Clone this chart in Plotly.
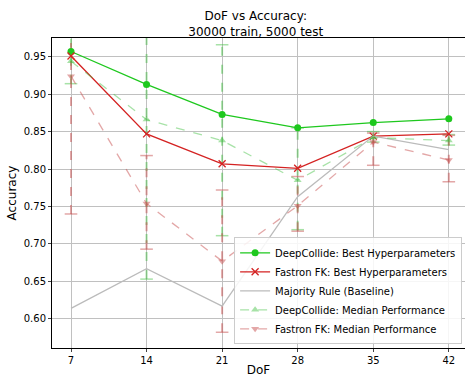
import plotly.graph_objects as go

dof = [7, 14, 21, 28, 35, 42]
dc_best = [0.957, 0.913, 0.873, 0.855, 0.862, 0.867]
fk_best = [0.951, 0.847, 0.807, 0.801, 0.844, 0.847]
majority = [0.614, 0.667, 0.617, 0.763, 0.844, 0.826]
dc_med = [0.944, 0.866, 0.838, 0.785, 0.842, 0.838]
dc_lo = [0.914, 0.653, 0.711, 0.719, 0.836, 0.832]
dc_hi = [0.99, 0.99, 0.966, 0.855, 0.850, 0.846]
fk_med = [0.924, 0.754, 0.677, 0.751, 0.836, 0.812]
fk_lo = [0.740, 0.693, 0.582, 0.717, 0.805, 0.783]
fk_hi = [0.99, 0.818, 0.772, 0.790, 0.848, 0.845]

GREEN = "#1ec81e"
RED = "#d42222"
LGREEN = "rgba(60,190,60,0.45)"
LRED = "rgba(200,80,80,0.5)"
FONT = "DejaVu Sans"

fig = go.Figure()

def err_traces(x, lo, hi, color):
    xs, ys = [], []
    for xi, l, h in zip(x, lo, hi):
        xs += [xi, xi, None]
        ys += [l, h, None]
    fig.add_trace(go.Scatter(x=xs, y=ys, mode="lines", line=dict(color=color, width=2, dash="dash"),
                             showlegend=False, hoverinfo="skip"))
    fig.add_trace(go.Scatter(x=list(x) + list(x), y=list(lo) + list(hi), mode="markers",
                             marker=dict(symbol="line-ew", size=9, line=dict(color=color, width=1.5)),
                             showlegend=False, hoverinfo="skip"))

err_traces(dof, dc_lo, dc_hi, LGREEN)
err_traces(dof, fk_lo, fk_hi, LRED)

fig.add_trace(go.Scatter(x=dof, y=dc_best, mode="lines+markers", name="DeepCollide: Best Hyperparameters",
                         line=dict(color=GREEN, width=1.3), marker=dict(symbol="circle", size=7, color=GREEN)))
fig.add_trace(go.Scatter(x=dof, y=fk_best, mode="lines+markers", name="Fastron FK: Best Hyperparameters",
                         line=dict(color=RED, width=1.3), marker=dict(symbol="x-thin", size=7, line=dict(color=RED, width=1.3))))
fig.add_trace(go.Scatter(x=dof, y=majority, mode="lines", name="Majority Rule (Baseline)",
                         line=dict(color="#bbbbbb", width=1.3)))
fig.add_trace(go.Scatter(x=dof, y=dc_med, mode="lines+markers", name="DeepCollide: Median Performance",
                         line=dict(color=LGREEN, width=1.3, dash="dash"), marker=dict(symbol="triangle-up", size=7, color=LGREEN)))
fig.add_trace(go.Scatter(x=dof, y=fk_med, mode="lines+markers", name="Fastron FK: Median Performance",
                         line=dict(color=LRED, width=1.3, dash="dash"), marker=dict(symbol="triangle-down", size=7, color=LRED)))

fig.update_layout(
    width=465, height=377,
    margin=dict(l=52, r=0, t=38, b=29),
    paper_bgcolor="white", plot_bgcolor="white",
    font=dict(family=FONT, size=10, color="black"),
    title=dict(text="DoF vs Accuracy:<br>30000 train, 5000 test", x=0.55, xanchor="center",
               y=0.946, yanchor="middle", font=dict(size=12)),
    legend=dict(x=0.993, y=0.012, xanchor="right", yanchor="bottom", bgcolor="rgba(255,255,255,0.85)",
                bordercolor="#cccccc", borderwidth=1, font=dict(size=10), tracegroupgap=0, itemwidth=30),
)
fig.update_xaxes(range=[5.24, 43.5], tickvals=dof, ticktext=[str(d) for d in dof],
                 showgrid=True, gridcolor="#c0c0c0", gridwidth=1, showline=True, linecolor="black",
                 mirror=True, ticks="outside", ticklen=3, zeroline=False,
                 title=dict(text="DoF", standoff=2))
fig.update_yaxes(range=[0.561, 0.975], tickvals=[0.60, 0.65, 0.70, 0.75, 0.80, 0.85, 0.90, 0.95],
                 tickformat=".2f", showgrid=True, gridcolor="#c0c0c0", gridwidth=1, showline=True,
                 linecolor="black", mirror=True, ticks="outside", ticklen=3, zeroline=False,
                 title=dict(text="Accuracy", standoff=4))

fig.write_html("out.html", config={"displayModeBar": False},
               post_script="document.body.style.margin='0';")
